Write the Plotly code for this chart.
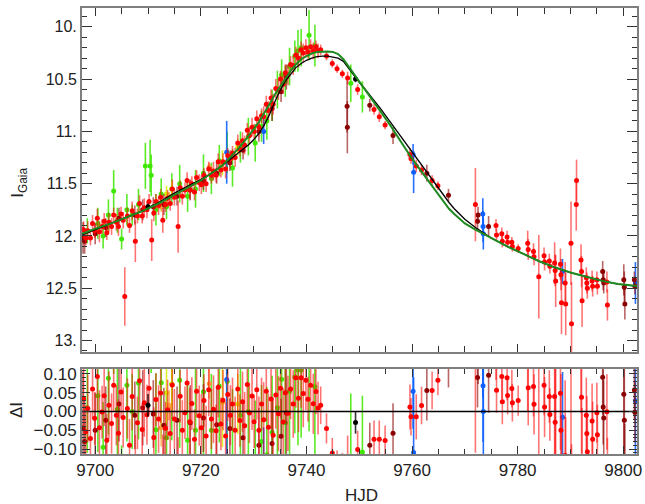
import numpy as np
import plotly.graph_objects as go

# ---------------- data ----------------
red_t = [9697.8, 9698.2, 9698.6, 9699.1, 9699.5, 9699.9, 9700.4, 9700.8, 9701.3, 9701.7,
         9702.2, 9702.6, 9703.1, 9703.5, 9704.0, 9704.4, 9704.9, 9705.3, 9705.6, 9706.1,
         9706.5, 9707.0, 9707.6, 9708.0, 9708.4, 9708.9, 9709.3, 9709.8, 9710.2, 9710.7,
         9711.1, 9711.5, 9712.0, 9712.4, 9712.8, 9713.3, 9713.7, 9714.2, 9714.6, 9715.0,
         9715.7, 9716.1, 9716.5, 9717.0, 9717.4, 9717.9, 9718.3, 9718.8, 9719.2, 9719.7,
         9720.1, 9720.6, 9721.0, 9721.5, 9722.0, 9722.4, 9722.9, 9723.3, 9723.8, 9724.2,
         9724.7, 9725.1, 9725.6, 9726.0, 9726.5, 9727.0, 9727.4, 9727.9, 9728.3, 9728.8,
         9729.2, 9729.7, 9730.1, 9730.6, 9731.0, 9731.5, 9731.9, 9732.4, 9732.8, 9733.3,
         9733.7, 9734.2, 9734.7, 9735.1, 9735.6, 9736.0, 9736.5, 9737.0, 9737.5, 9738.0,
         9738.5, 9739.0, 9739.4, 9739.9, 9740.3, 9740.8, 9741.3, 9741.8, 9742.2, 9742.7,
         9743.8, 9744.9, 9745.8, 9746.8, 9747.8, 9749.7, 9752.8, 9753.8, 9754.9, 9759.6,
         9759.8, 9760.8, 9761.8, 9763.8, 9764.9, 9772.0, 9775.9, 9776.0, 9777.0, 9777.1,
         9778.0, 9778.1, 9778.9, 9779.0, 9780.1, 9781.9, 9782.0, 9783.0, 9783.1, 9784.0,
         9785.0, 9785.1, 9786.0, 9786.1, 9787.0, 9787.1, 9787.2, 9788.1, 9788.2, 9788.3,
         9789.0, 9789.1, 9790.1, 9790.2, 9791.1, 9791.15, 9792.0, 9792.1, 9792.2, 9793.0,
         9793.1, 9793.2, 9794.1, 9794.2, 9795.0, 9795.1, 9796.9, 9797.0]
red_mag = [11.94, 12.02, 11.95, 12.02, 11.88, 11.95, 11.83, 11.96, 11.91, 11.86,
           11.97, 11.87, 11.91, 11.80, 11.87, 11.91, 11.79, 11.85, 12.58, 11.81,
           11.90, 11.76, 12.05, 11.81, 11.69, 11.81, 11.73, 11.75, 11.67, 12.04,
           11.78, 11.67, 11.71, 11.63, 11.85, 11.70, 11.64, 11.69, 11.55, 11.63,
           11.91, 11.54, 11.62, 11.56, 11.47, 11.56, 11.50, 11.58, 11.44, 11.49,
           11.51, 11.42, 11.50, 11.36, 11.42, 11.38, 11.42, 11.29, 11.37, 11.29,
           11.36, 11.23, 11.26, 11.21, 11.25, 11.11, 11.17, 11.09, 11.13, 10.99,
           11.04, 10.96, 11.00, 10.88, 10.96, 10.85, 10.86, 10.74, 10.80, 10.68,
           10.74, 10.59, 10.60, 10.50, 10.55, 10.44, 10.46, 10.36, 10.37, 10.27,
           10.30, 10.22, 10.25, 10.20, 10.24, 10.19, 10.23, 10.19, 10.23, 10.22,
           10.28, 10.35, 10.40, 10.45, 10.49, 10.60, 10.79, 10.86, 10.94, 11.22,
           11.26, 11.33, 11.37, 11.47, 11.52, 11.70, 11.90, 11.99, 11.98, 12.05,
           12.01, 12.06, 12.06, 12.10, 12.12, 12.07, 12.13, 12.15, 12.20, 12.39,
           12.19, 12.25, 12.24, 12.29, 12.26, 12.33, 12.43, 12.27, 12.37, 12.64,
           12.45, 12.65, 12.07, 12.84, 11.70, 11.47, 12.23, 12.34, 12.62, 12.40,
           12.45, 12.50, 12.43, 12.48, 12.42, 12.48, 12.44, 12.66]
red_err = [0.08, 0.07, 0.09, 0.07, 0.08, 0.07, 0.09, 0.10, 0.07, 0.08,
           0.07, 0.09, 0.08, 0.07, 0.08, 0.09, 0.07, 0.08, 0.28, 0.08,
           0.07, 0.09, 0.20, 0.07, 0.08, 0.07, 0.09, 0.08, 0.07, 0.20,
           0.08, 0.07, 0.09, 0.08, 0.12, 0.07, 0.08, 0.07, 0.09, 0.08,
           0.25, 0.07, 0.08, 0.07, 0.08, 0.09, 0.07, 0.08, 0.07, 0.08,
           0.09, 0.07, 0.08, 0.07, 0.08, 0.09, 0.07, 0.08, 0.07, 0.08,
           0.09, 0.07, 0.08, 0.07, 0.09, 0.08, 0.07, 0.08, 0.09, 0.07,
           0.08, 0.09, 0.07, 0.08, 0.09, 0.07, 0.10, 0.08, 0.09, 0.08,
           0.10, 0.09, 0.10, 0.08, 0.09, 0.08, 0.10, 0.08, 0.09, 0.08,
           0.09, 0.08, 0.09, 0.08, 0.06, 0.07, 0.08, 0.06, 0.07, 0.05,
           0.04, 0.04, 0.04, 0.04, 0.06, 0.05, 0.05, 0.05, 0.04, 0.06,
           0.05, 0.06, 0.05, 0.05, 0.04, 0.35, 0.06, 0.06, 0.06, 0.06,
           0.06, 0.05, 0.05, 0.05, 0.04, 0.12, 0.10, 0.08, 0.08, 0.40,
           0.08, 0.08, 0.07, 0.07, 0.20, 0.15, 0.25, 0.15, 0.15, 0.30,
           0.20, 0.30, 0.40, 0.40, 0.25, 0.20, 0.15, 0.15, 0.25, 0.10,
           0.10, 0.10, 0.10, 0.10, 0.08, 0.08, 0.10, 0.15]

dred_t = [9697.7, 9698.0, 9700.0, 9702.0, 9704.5, 9707.5, 9709.0, 9711.0, 9713.0, 9715.5,
          9718.0, 9720.5, 9723.0, 9725.5, 9728.0, 9731.0, 9733.5, 9735.2, 9736.2, 9747.7,
          9747.75, 9752.0, 9756.4, 9762.8, 9766.9, 9772.4, 9772.5, 9774.5, 9796.1, 9796.2,
          9796.3, 9800.1, 9800.2, 9800.3, 9802.1, 9802.2]
dred_mag = [12.02, 12.05, 11.98, 11.92, 11.83, 11.80, 11.75, 11.72, 11.70, 11.62,
            11.56, 11.47, 11.40, 11.30, 11.18, 11.00, 10.78, 10.62, 10.48, 10.76,
            10.96, 10.75, 11.04, 11.40, 11.61, 11.86, 11.80, 11.91, 12.34, 12.42,
            12.45, 12.42, 12.49, 12.65, 12.42, 12.48]
dred_err = [0.15, 0.12, 0.10, 0.09, 0.10, 0.09, 0.10, 0.09, 0.10, 0.09,
            0.10, 0.09, 0.10, 0.08, 0.09, 0.10, 0.12, 0.10, 0.12, 0.25,
            0.25, 0.06, 0.08, 0.08, 0.06, 0.08, 0.08, 0.10, 0.10, 0.10,
            0.10, 0.15, 0.15, 0.15, 0.08, 0.08]

green_t = [9698.5, 9700.5, 9701.5, 9702.5, 9703.5, 9704.2, 9705.0, 9706.0, 9707.0, 9708.2,
           9709.5, 9710.4, 9710.6, 9711.5, 9712.5, 9713.5, 9714.5, 9716.0, 9717.5, 9719.0,
           9720.5, 9722.0, 9723.5, 9725.0, 9726.0, 9727.5, 9729.0, 9730.3, 9731.5, 9732.5,
           9733.5, 9734.5, 9735.3, 9736.0, 9736.8, 9737.8, 9738.4, 9739.0, 9740.5, 9741.6,
           9748.4, 9750.6]
green_mag = [11.95, 11.88, 12.00, 11.80, 11.57, 11.85, 12.03, 11.75, 11.80, 11.70,
             11.33, 11.33, 11.42, 11.75, 11.60, 11.72, 11.55, 11.50, 11.62, 11.55,
             11.40, 11.45, 11.28, 11.20, 11.35, 11.15, 11.05, 11.11, 10.95, 10.90,
             10.75, 10.60, 10.46, 10.52, 10.38, 10.28, 10.23, 10.20, 10.08, 10.18,
             10.54, 10.67]
green_err = [0.12, 0.15, 0.12, 0.15, 0.20, 0.12, 0.10, 0.15, 0.10, 0.15,
             0.22, 0.25, 0.20, 0.15, 0.15, 0.12, 0.15, 0.18, 0.15, 0.18,
             0.18, 0.15, 0.15, 0.20, 0.18, 0.15, 0.18, 0.18, 0.15, 0.18,
             0.15, 0.18, 0.15, 0.15, 0.18, 0.15, 0.20, 0.18, 0.24, 0.20,
             0.18, 0.15]

blue_t = [9724.9, 9731.9, 9760.2, 9760.3, 9773.4, 9773.45, 9773.5, 9788.5, 9802.3]
blue_mag = [11.20, 11.00, 11.22, 11.39, 11.79, 11.91, 11.98, 12.34, 12.45]
blue_err = [0.30, 0.12, 0.10, 0.20, 0.15, 0.15, 0.15, 0.12, 0.20]

yellow_t = [9713.5, 9714.5, 9724.1, 9727.0]
yellow_mag = [11.60, 11.55, 11.30, 11.15]
yellow_err = [0.08, 0.07, 0.12, 0.08]

orange_t = [9712.5, 9714.0, 9721.6]
orange_mag = [11.72, 11.62, 11.34]
orange_err = [0.05, 0.04, 0.04]

black_t = [9710.0, 9749.3]
black_mag = [11.72, 10.50]
black_err = [0.03, 0.03]

model_green_t = [9697.5, 9700, 9703, 9706, 9709, 9712, 9715, 9718, 9720, 9722,
                 9724, 9725, 9726, 9727, 9728, 9729, 9730, 9731, 9732, 9733,
                 9734, 9735, 9736, 9737, 9738, 9739, 9740, 9741, 9742, 9743,
                 9744, 9745, 9746, 9747, 9748, 9749, 9750, 9751, 9752, 9753,
                 9754, 9755, 9756, 9757, 9758, 9759, 9760, 9761, 9762, 9763,
                 9764, 9765, 9766, 9767, 9768, 9769, 9770, 9772, 9775, 9778,
                 9781, 9784, 9787, 9790, 9793, 9796, 9799, 9802.6]
model_green = [11.98, 11.93, 11.88, 11.82, 11.76, 11.69, 11.61, 11.53, 11.47, 11.40,
               11.33, 11.28, 11.23, 11.17, 11.11, 11.05, 10.98, 10.91, 10.83, 10.74,
               10.65, 10.57, 10.49, 10.42, 10.36, 10.31, 10.28, 10.255, 10.24, 10.235,
               10.235, 10.24, 10.26, 10.31, 10.38, 10.45, 10.52, 10.59, 10.66, 10.73,
               10.80, 10.87, 10.95, 11.03, 11.11, 11.19, 11.26, 11.33, 11.40, 11.47,
               11.54, 11.61, 11.68, 11.74, 11.79, 11.84, 11.88, 11.94, 12.02, 12.10,
               12.17, 12.24, 12.30, 12.35, 12.39, 12.43, 12.46, 12.48]

model_black_t = [9697.5, 9700, 9703, 9706, 9709, 9712, 9715, 9718, 9720, 9722,
                 9724, 9725, 9726, 9727, 9728, 9729, 9730, 9731, 9732, 9733,
                 9734, 9735, 9736, 9737, 9738, 9739, 9740, 9741, 9742, 9743,
                 9744, 9745, 9746, 9747, 9748, 9749, 9750, 9751, 9752, 9753,
                 9754, 9755, 9756, 9757, 9758, 9759, 9760, 9761, 9762, 9763,
                 9764, 9765, 9766, 9767, 9768, 9769, 9770, 9772, 9775, 9778,
                 9781, 9784, 9787, 9790, 9793, 9796, 9799, 9802.6]
model_black = [11.99, 11.94, 11.88, 11.82, 11.76, 11.68, 11.59, 11.51, 11.46, 11.40,
               11.33, 11.29, 11.25, 11.21, 11.17, 11.13, 11.08, 11.02, 10.94, 10.84,
               10.72, 10.61, 10.52, 10.45, 10.39, 10.35, 10.32, 10.30, 10.285, 10.28,
               10.28, 10.29, 10.30, 10.33, 10.40, 10.47, 10.53, 10.59, 10.65, 10.71,
               10.78, 10.85, 10.92, 10.99, 11.06, 11.13, 11.20, 11.27, 11.34, 11.41,
               11.48, 11.55, 11.62, 11.68, 11.74, 11.79, 11.84, 11.92, 12.02, 12.10,
               12.17, 12.24, 12.30, 12.35, 12.39, 12.43, 12.46, 12.48]

main_tickvals = [10.0, 10.5, 11.0, 11.5, 12.0, 12.5, 13.0]
main_ticktext = ["10.", "10.5", "11.", "11.5", "12.", "12.5", "13."]
res_tickvals = [0.10, 0.05, 0.0, -0.05, -0.10]
res_ticktext = ["0.10", "0.05", "0.00", "\u22120.05", "\u22120.10"]
x_tickvals = [9700, 9720, 9740, 9760, 9780, 9800]
x_ticktext = ["9700", "9720", "9740", "9760", "9780", "9800"]

# ---------------- figure ----------------
FONT = "Liberation Sans, Arial, sans-serif"
fig = go.Figure()

datasets = [
    (green_t, green_mag, green_err, "#3ee800", "rgba(62,232,0,0.85)"),
    (yellow_t, yellow_mag, yellow_err, "#d4ee00", "rgba(212,238,0,0.85)"),
    (orange_t, orange_mag, orange_err, "#ffa040", "rgba(255,160,64,0.8)"),
    (blue_t, blue_mag, blue_err, "#1060ff", "rgba(16,96,255,0.9)"),
    (dred_t, dred_mag, dred_err, "#8b0000", "rgba(139,0,0,0.6)"),
    (red_t, red_mag, red_err, "#ff0000", "rgba(255,0,0,0.55)"),
    (black_t, black_mag, black_err, "#000000", "rgba(0,0,0,0.8)"),
]

mgt = np.array(model_green_t)
mg = np.array(model_green)

for t, m, e, col, ecol in datasets:
    t = np.array(t); m = np.array(m); e = np.array(e)
    fig.add_trace(go.Scatter(
        x=t, y=m, mode="markers",
        marker=dict(color=col, size=5, line=dict(width=0)),
        error_y=dict(type="data", array=e, visible=True, color=ecol, thickness=1.6, width=0),
        xaxis="x", yaxis="y", showlegend=False, cliponaxis=True))
    # residual: model minus observed
    res = np.interp(t, mgt, mg) - m
    fig.add_trace(go.Scatter(
        x=t, y=res, mode="markers",
        marker=dict(color=col, size=5, line=dict(width=0)),
        error_y=dict(type="data", array=e, visible=True, color=ecol, thickness=1.6, width=0),
        xaxis="x2", yaxis="y2", showlegend=False, cliponaxis=True))

fig.add_trace(go.Scatter(x=model_black_t, y=model_black, mode="lines",
                         line=dict(color="black", width=1.3),
                         xaxis="x", yaxis="y", showlegend=False))
fig.add_trace(go.Scatter(x=model_green_t, y=model_green, mode="lines",
                         line=dict(color="#1f8a1f", width=2),
                         xaxis="x", yaxis="y", showlegend=False))
fig.add_trace(go.Scatter(x=[9697.5, 9802.6], y=[0, 0], mode="lines",
                         line=dict(color="black", width=1.5),
                         xaxis="x2", yaxis="y2", showlegend=False))

axcommon = dict(showgrid=False, zeroline=False, showline=True, linecolor="#7f7f7f",
                linewidth=2, mirror="ticks", ticks="inside", tickcolor="#333333",
                automargin=False,
                tickfont=dict(family=FONT, size=17, color="#222"))

xr = [9697.5, 9802.6]
fig.update_layout(
    width=645, height=504,
    margin=dict(l=82, r=8, t=8, b=50),
    paper_bgcolor="white", plot_bgcolor="white",
    xaxis=dict(axcommon, domain=[0, 1], range=xr, anchor="y", showticklabels=False,
               tickmode="array", tickvals=x_tickvals, ticklen=8,
               minor=dict(tickmode="linear", tick0=9700, dtick=5, ticklen=6, ticks="inside",
                          tickcolor="#333333")),
    yaxis=dict(axcommon, domain=[0.2287, 1.0], range=[13.11, 9.82], anchor="x",
               tickmode="array", tickvals=main_tickvals, ticktext=main_ticktext,
               ticklen=10, tickfont=dict(family=FONT, size=16, color="#222"),
               minor=dict(tickmode="linear", tick0=10, dtick=0.1, ticklen=5, ticks="inside",
                          tickcolor="#333333")),
    xaxis2=dict(axcommon, domain=[0, 1], range=xr, anchor="y2",
                tickmode="array", tickvals=x_tickvals, ticktext=x_ticktext, ticklen=8,
                minor=dict(tickmode="linear", tick0=9700, dtick=5, ticklen=5, ticks="inside",
                           tickcolor="#333333")),
    yaxis2=dict(axcommon, domain=[0, 0.1906], range=[-0.113, 0.113], anchor="x2",
                tickmode="array", tickvals=res_tickvals, ticktext=res_ticktext, ticklen=8,
                minor=dict(tickmode="linear", tick0=0, dtick=0.01, ticklen=4, ticks="inside",
                           tickcolor="#333333")),
)

fig.add_annotation(text="I<sub>Gaia</sub>", xref="paper", yref="paper",
                   x=-0.1135, y=0.608, textangle=-90, showarrow=False,
                   font=dict(family=FONT, size=17, color="#222"), xanchor="center", yanchor="middle")
fig.add_annotation(text="ΔI", xref="paper", yref="paper",
                   x=-0.117, y=0.0987, textangle=-90, showarrow=False,
                   font=dict(family=FONT, size=17, color="#222"), xanchor="center", yanchor="middle")
fig.add_annotation(text="HJD", xref="paper", yref="paper",
                   x=0.5045, y=-0.092, showarrow=False,
                   font=dict(family=FONT, size=17, color="#222"), xanchor="center", yanchor="middle")

fig.write_html("out.html", config={"displayModeBar": False},
               post_script="document.body.style.margin='0px';document.body.style.padding='0px';")
